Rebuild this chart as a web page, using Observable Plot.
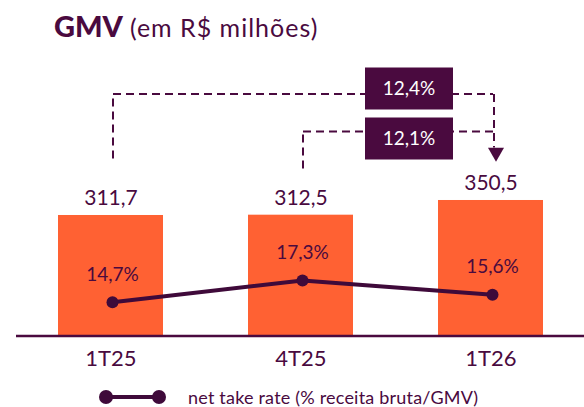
<!DOCTYPE html>
<html>
<head>
<meta charset="utf-8">
<script src="https://cdn.jsdelivr.net/npm/d3@7"></script>
<script src="https://cdn.jsdelivr.net/npm/@observablehq/plot@0.6"></script>
<style>
  html, body { margin: 0; padding: 0; background: #fff; }
  #wrap { position: relative; width: 584px; height: 407px; overflow: hidden; font-family: Lato, "Open Sans", sans-serif; color: #4a0a3f; }
  #title { position: absolute; left: 54px; top: 8px; white-space: nowrap; line-height: 36px; }
  #title b { font-weight: 900; font-size: 29px; }
  #title span { font-size: 25px; margin-left: 7px; letter-spacing: 1px; }
  #chart { position: absolute; left: 0; top: 0; }
  #legend { position: absolute; left: 98px; top: 387px; height: 20px; display: flex; align-items: center; white-space: nowrap; }
  #legend span { font-size: 18px; margin-left: 22px; letter-spacing: 0.2px; }
</style>
</head>
<body>
<div id="wrap">
  <div id="chart"></div>
  <div id="title"><b>GMV</b><span>(em R$ milhões)</span></div>
  <div id="legend"><svg width="68" height="16"><line x1="8" x2="61" y1="8" y2="8" stroke="#3f0a3a" stroke-width="4"/><circle cx="8" cy="8" r="7" fill="#3f0a3a"/><circle cx="61" cy="8" r="7" fill="#3f0a3a"/></svg><span id="legendText"></span></div>
</div>
<script>
// ---- data ----
const categories = ["1T25", "4T25", "1T26"];
const gmv = [311.7, 312.5, 350.5];
const takeRate = [14.7, 17.3, 15.6];
const growthFrom = ["1T25", "4T25"];
const growthTo = ["1T26", "1T26"];
const growthLabels = ["12,4%", "12,1%"];
const legendLabel = "net take rate (% receita bruta/GMV)";
document.getElementById("legendText").textContent = legendLabel;

// ---- styles ----
const purple = "#4a0a3f";
const lineColor = "#3f0a3a";
const orange = "#ff6133";
const fmt = v => v.toFixed(1).replace(".", ",");

const rows = categories.map((c, i) => ({cat: c, gmv: gmv[i], rate: takeRate[i]}));

// secondary axis: take rate (%) mapped into the GMV scale units
const rateToY = d3.scaleLinear([10, 20], [-14.1, 201.9]);

// annotation brackets (levels in GMV scale units)
const levels = [626, 529];
const leftBottoms = [459, 433];
const boxLevels = [640, 511];
const ann = growthFrom.map((f, i) => ({from: f, to: growthTo[i], label: growthLabels[i], level: levels[i], bottom: leftBottoms[i], box: boxLevels[i]}));
const arrowBase = 487.6, arrowCenter = 475;

const boxSymbol = {draw(ctx) { ctx.moveTo(-44, -21); ctx.lineTo(44, -21); ctx.lineTo(44, 21); ctx.lineTo(-44, 21); ctx.closePath(); }};
const triSymbol = {draw(ctx) { ctx.moveTo(-8, -4.6); ctx.lineTo(8, -4.6); ctx.lineTo(0, 9.3); ctx.closePath(); }};

const dash = {stroke: purple, strokeWidth: 2, strokeDasharray: "8,5"};

const chart = Plot.plot({
  width: 584,
  height: 407,
  marginLeft: 58,
  marginRight: 40.5,
  marginTop: 0,
  marginBottom: 71.5,
  style: {fontFamily: "Lato, 'Open Sans', sans-serif", background: "transparent"},
  x: {type: "band", domain: categories, paddingInner: 0.445, paddingOuter: 0, axis: null},
  y: {domain: [0, 867.8], axis: null},
  marks: [
    Plot.barY(rows, {x: "cat", y: "gmv", fill: orange}),
    Plot.ruleY([0], {stroke: purple, strokeWidth: 2.5, insetLeft: -42, insetRight: -41}),
    Plot.text(rows, {x: "cat", y: "gmv", text: d => fmt(d.gmv), dy: -10, lineAnchor: "bottom", fontSize: 21, fill: purple}),
    Plot.text(rows, {x: "cat", y: 0, text: "cat", dy: 29.5, lineAnchor: "bottom", fontSize: 22, fill: purple}),
    Plot.line(rows, {x: "cat", y: d => rateToY(d.rate), stroke: lineColor, strokeWidth: 4, dx: 1.5}),
    Plot.dot(rows, {x: "cat", y: d => rateToY(d.rate), r: 6, fill: lineColor, dx: 1.5}),
    Plot.text(rows, {x: "cat", y: d => rateToY(d.rate), text: d => fmt(d.rate) + "%", dy: -21.7, dx: 1.5, lineAnchor: "bottom", fontSize: 19, fill: purple}),
    // brackets
    Plot.link(ann, {x1: "from", x2: "from", y1: "bottom", y2: "level", dx: 2, ...dash}),
    Plot.link(ann, {x1: "from", x2: "to", y1: "level", y2: "level", ...dash, dx: 2}),
    Plot.link([ann[0]], {x1: "to", x2: "to", y1: "level", y2: () => arrowBase, dx: 3, ...dash}),
    Plot.dot([ann[0]], {x: "to", y: () => arrowCenter, symbol: triSymbol, fill: purple, stroke: null, dx: 5, r: 6}),
    Plot.dot(ann, {x: "to", y: "box", symbol: boxSymbol, fill: purple, stroke: null, dx: -82, r: 6}),
    Plot.text(ann, {x: "to", y: "box", text: "label", fill: "#ffffff", fontSize: 19, dx: -82})
  ]
});
document.getElementById("chart").appendChild(chart);
</script>
</body>
</html>
